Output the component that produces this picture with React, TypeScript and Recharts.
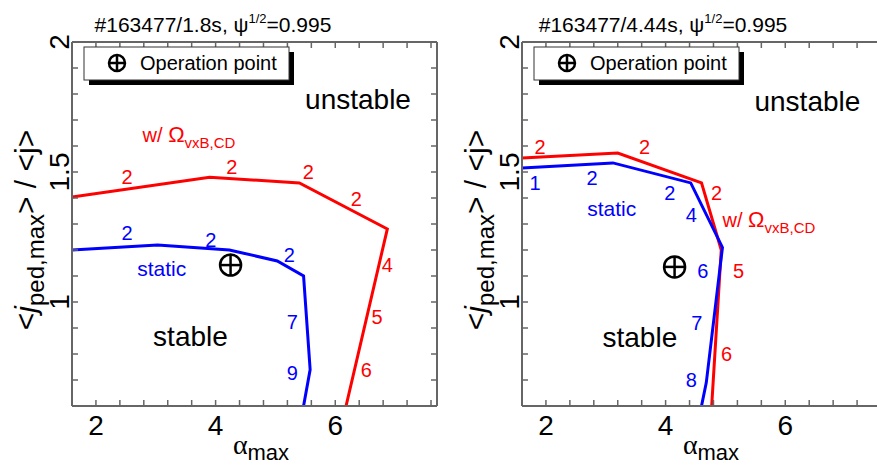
import React from "react";
import { ComposedChart, Line, Scatter, XAxis, YAxis } from "recharts";

type Pt = { x: number; y: number };
type Note = { x: number; y: number; t: string };

// axes
const xTicks = [1.6, 2, 2.4, 2.8, 3.2, 3.6, 4, 4.4, 4.8, 5.2, 5.6, 6, 6.4, 6.8, 7.2, 7.6];
const xLabeled = [2, 4, 6];
const yTicks = [0.6, 0.7, 0.8, 0.9, 1, 1.1, 1.2, 1.3, 1.4, 1.5, 1.6, 1.7, 1.8, 1.9, 2];
const yLabeled = [1, 1.5, 2];

// shot 1.8 s
const staticA: Pt[] = [
  { x: 1.6, y: 1.2 }, { x: 3.03, y: 1.219 }, { x: 4.23, y: 1.2 }, { x: 5.03, y: 1.158 },
  { x: 5.47, y: 1.1 }, { x: 5.58, y: 0.74 }, { x: 5.47, y: 0.6 },
];
const rotA: Pt[] = [
  { x: 1.6, y: 1.404 }, { x: 3.9, y: 1.48 }, { x: 5.4, y: 1.458 }, { x: 6.87, y: 1.281 }, { x: 6.18, y: 0.6 },
];
const staticNA: Note[] = [
  { x: 2.52, y: 1.265, t: "2" }, { x: 3.92, y: 1.238, t: "2" }, { x: 5.23, y: 1.18, t: "2" },
  { x: 5.28, y: 0.923, t: "7" }, { x: 5.28, y: 0.727, t: "9" },
];
const rotNA: Note[] = [
  { x: 2.52, y: 1.48, t: "2" }, { x: 4.27, y: 1.52, t: "2" }, { x: 5.55, y: 1.5, t: "2" },
  { x: 6.35, y: 1.396, t: "2" }, { x: 6.87, y: 1.142, t: "4" }, { x: 6.7, y: 0.942, t: "5" },
  { x: 6.52, y: 0.738, t: "6" },
];
const regionA: Note[] = [{ x: 6.38, y: 1.777, t: "unstable" }, { x: 3.58, y: 0.869, t: "stable" }];
const staticTagA: Note[] = [{ x: 3.1, y: 1.127, t: "static" }];
const rotTagA: Note[] = [{ x: 2.78, y: 1.642, t: "w/" }];
const opA: Pt[] = [{ x: 4.25, y: 1.142 }];

// shot 4.44 s
const staticB: Pt[] = [
  { x: 1.6, y: 1.515 }, { x: 3.12, y: 1.535 }, { x: 4.42, y: 1.458 }, { x: 4.95, y: 1.21 },
  { x: 4.68, y: 0.69 }, { x: 4.6, y: 0.6 },
];
const rotB: Pt[] = [
  { x: 1.6, y: 1.554 }, { x: 3.2, y: 1.573 }, { x: 4.6, y: 1.458 }, { x: 4.93, y: 1.2 }, { x: 4.77, y: 0.6 },
];
const staticNB: Note[] = [
  { x: 1.82, y: 1.458, t: "1" }, { x: 2.77, y: 1.477, t: "2" }, { x: 4.07, y: 1.42, t: "2" },
  { x: 4.43, y: 1.335, t: "4" }, { x: 4.62, y: 1.12, t: "6" }, { x: 4.52, y: 0.92, t: "7" },
  { x: 4.43, y: 0.7, t: "8" },
];
const rotNB: Note[] = [
  { x: 1.9, y: 1.596, t: "2" }, { x: 3.65, y: 1.596, t: "2" }, { x: 4.85, y: 1.42, t: "2" },
  { x: 5.22, y: 1.12, t: "5" }, { x: 5.02, y: 0.8, t: "6" },
];
const regionB: Note[] = [{ x: 6.37, y: 1.77, t: "unstable" }, { x: 3.57, y: 0.865, t: "stable" }];
const staticTagB: Note[] = [{ x: 3.1, y: 1.36, t: "static" }];
const rotTagB: Note[] = [{ x: 4.95, y: 1.315, t: "w/" }];
const opB: Pt[] = [{ x: 4.15, y: 1.135 }];

const FONT = "'Liberation Sans', Arial, sans-serif";
const AXIS = "#666";
const RED = "#ff0000";
const BLUE = "#0000ff";

const BottomTick = (p: any) => (
  <g>
    <line x1={p.x} x2={p.x} y1={p.y} y2={p.y - 6} stroke={AXIS} strokeWidth={1.5} />
    {xLabeled.includes(p.payload.value) && (
      <text x={p.x} y={p.y + 29} textAnchor="middle" fontSize={28} fontFamily={FONT} fill="#000">
        {p.payload.value}
      </text>
    )}
  </g>
);
const TopTick = (p: any) => (
  <line x1={p.x} x2={p.x} y1={p.y} y2={p.y + 6} stroke={AXIS} strokeWidth={1.5} />
);
const LeftTick = (p: any) => (
  <g>
    <line x1={p.x} x2={p.x + 6} y1={p.y} y2={p.y} stroke={AXIS} strokeWidth={1.5} />
    {yLabeled.includes(p.payload.value) && (
      <text transform={`translate(${p.x - 3},${p.y}) rotate(-90)`} textAnchor="middle" fontSize={28} fontFamily={FONT} fill="#000">
        {p.payload.value}
      </text>
    )}
  </g>
);
const RightTick = (p: any) => (
  <line x1={p.x} x2={p.x - 6} y1={p.y} y2={p.y} stroke={AXIS} strokeWidth={1.5} />
);

const noteShape = (color: string, size: number) => (p: any) => (
  <text x={p.cx} y={p.cy} textAnchor="middle" dominantBaseline="central" fontSize={size} fontFamily={FONT} fill={color}>
    {p.payload.t}
  </text>
);
const rotTagShape = (p: any) => (
  <text x={p.cx} y={p.cy + 7} fontFamily={FONT} fill={RED}>
    <tspan fontSize={20}>w/ </tspan>
    <tspan fontSize={22}>Ω</tspan>
    <tspan fontSize={15} dy={6}>vxB,CD</tspan>
  </text>
);
const opShape = (p: any) => (
  <g stroke="#000" strokeWidth={2.5} fill="none">
    <circle cx={p.cx} cy={p.cy} r={10.5} />
    <line x1={p.cx - 10.5} x2={p.cx + 10.5} y1={p.cy} y2={p.cy} />
    <line x1={p.cx} x2={p.cx} y1={p.cy - 10.5} y2={p.cy + 10.5} />
  </g>
);

type PanelProps = {
  time: string;
  left: number;
  staticLine: Pt[];
  rotLine: Pt[];
  staticNotes: Note[];
  rotNotes: Note[];
  regions: Note[];
  staticTag: Note[];
  rotTag: Note[];
  op: Pt[];
};

const Panel = (d: PanelProps) => (
  <div style={{ position: "absolute", left: d.left, top: 0, width: 440, height: 466 }}>
    <ComposedChart width={440} height={466} margin={{ top: 41, right: 2, bottom: 0, left: 0 }}>
      <XAxis type="number" dataKey="x" domain={[1.6, 7.7]} ticks={xTicks} interval={0} allowDataOverflow
        height={60} tickSize={0} tickMargin={0} tickLine={false} tick={BottomTick}
        axisLine={{ stroke: AXIS, strokeWidth: 2 }} />
      <XAxis xAxisId="top" orientation="top" type="number" dataKey="x" domain={[1.6, 7.7]} ticks={xTicks} interval={0}
        allowDataOverflow height={1} tickSize={0} tickMargin={0} tickLine={false} tick={TopTick}
        axisLine={{ stroke: AXIS, strokeWidth: 2 }} />
      <YAxis type="number" dataKey="y" domain={[0.6, 2]} ticks={yTicks} interval={0} allowDataOverflow
        width={72} tickSize={0} tickMargin={0} tickLine={false} tick={LeftTick}
        axisLine={{ stroke: AXIS, strokeWidth: 2 }} />
      <YAxis yAxisId="right" orientation="right" type="number" dataKey="y" domain={[0.6, 2]} ticks={yTicks} interval={0}
        allowDataOverflow width={1} tickSize={0} tickMargin={0} tickLine={false} tick={RightTick}
        axisLine={{ stroke: AXIS, strokeWidth: 2 }} />
      <Line data={d.rotLine} dataKey="y" stroke={RED} strokeWidth={3} dot={false} isAnimationActive={false} />
      <Line data={d.staticLine} dataKey="y" stroke={BLUE} strokeWidth={3} dot={false} isAnimationActive={false} />
      <Scatter data={d.rotNotes} dataKey="y" shape={noteShape(RED, 20)} isAnimationActive={false} />
      <Scatter data={d.staticNotes} dataKey="y" shape={noteShape(BLUE, 20)} isAnimationActive={false} />
      <Scatter data={d.regions} dataKey="y" shape={noteShape("#000", 28)} isAnimationActive={false} />
      <Scatter data={d.staticTag} dataKey="y" shape={noteShape(BLUE, 21)} isAnimationActive={false} />
      <Scatter data={d.rotTag} dataKey="y" shape={rotTagShape} isAnimationActive={false} />
      <Scatter data={d.op} dataKey="y" shape={opShape} isAnimationActive={false} />
    </ComposedChart>
    <svg width={440} height={466} style={{ position: "absolute", left: 0, top: 0, pointerEvents: "none" }}>
      <text x={213} y={32} textAnchor="middle" fontFamily={FONT} fontSize={21} fill="#000">
        #163477/{d.time}, ψ<tspan fontSize={13} dy={-9}>1/2</tspan><tspan dy={9}>=0.995</tspan>
      </text>
      <rect x={89} y={52} width={205} height={33} fill="#000" />
      <rect x={84} y={47} width={205} height={33} fill="#fff" stroke="#333" strokeWidth={1} />
      <g stroke="#000" strokeWidth={2.5} fill="none">
        <circle cx={117} cy={63} r={8} />
        <line x1={109} x2={125} y1={63} y2={63} />
        <line x1={117} x2={117} y1={55} y2={71} />
      </g>
      <text x={140} y={70} fontFamily={FONT} fontSize={20} fill="#000">Operation point</text>
      <text transform="translate(36,230) rotate(-90)" textAnchor="middle" fontFamily={FONT} fontSize={30} fill="#000">
        &lt;<tspan fontStyle="italic">j</tspan>
        <tspan fontSize={24} dy={8}>ped,max</tspan>
        <tspan dy={-8}>&gt; / &lt;j&gt;</tspan>
      </text>
      <text x={261} y={454} textAnchor="middle" fill="#000">
        <tspan fontFamily="'Liberation Serif', serif" fontSize={28}>α</tspan>
        <tspan fontFamily={FONT} fontSize={22} dy={6}>max</tspan>
      </text>
    </svg>
  </div>
);

export default function App() {
  return (
    <div style={{ position: "absolute", left: 0, top: 0, width: 877, height: 466, overflow: "hidden", background: "#fff" }}>
      <Panel time="1.8s" left={0} staticLine={staticA} rotLine={rotA} staticNotes={staticNA} rotNotes={rotNA}
        regions={regionA} staticTag={staticTagA} rotTag={rotTagA} op={opA} />
      <Panel time="4.44s" left={450} staticLine={staticB} rotLine={rotB} staticNotes={staticNB} rotNotes={rotNB}
        regions={regionB} staticTag={staticTagB} rotTag={rotTagB} op={opB} />
    </div>
  );
}
